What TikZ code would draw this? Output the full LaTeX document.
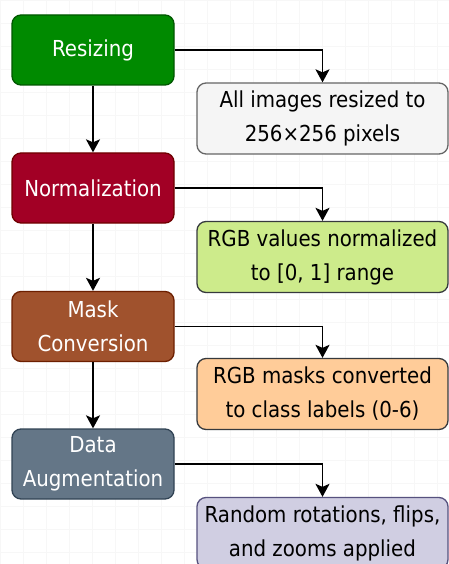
\documentclass[tikz,border=0pt]{standalone}
\usepackage{fontspec}
\setmainfont{DejaVu Sans Condensed}
\usetikzlibrary{arrows.meta}

% stage fills and borders
\definecolor{resizeFill}{HTML}{008A00}\definecolor{resizeLine}{HTML}{005700}
\definecolor{normFill}{HTML}{A20025}\definecolor{normLine}{HTML}{6F0000}
\definecolor{maskFill}{HTML}{A0522D}\definecolor{maskLine}{HTML}{6D1F00}
\definecolor{augFill}{HTML}{647687}\definecolor{augLine}{HTML}{314354}
% detail box fills and borders
\definecolor{greyFill}{HTML}{F5F5F5}\definecolor{greyLine}{HTML}{666666}
\definecolor{limeFill}{HTML}{CDEB8B}\definecolor{limeLine}{HTML}{36393D}
\definecolor{peachFill}{HTML}{FFCC99}\definecolor{peachLine}{HTML}{36393D}
\definecolor{lilacFill}{HTML}{D0CEE2}\definecolor{lilacLine}{HTML}{56517E}

\tikzset{
  stage/.style={draw, line width=1.3pt, rounded corners=9pt,
    minimum width=162pt, minimum height=70pt, inner sep=0pt,
    text=white, align=center, font=\fontsize{22}{34}\selectfont},
  detail/.style={draw, line width=1.3pt, rounded corners=9pt,
    minimum width=251pt, minimum height=71pt, inner sep=0pt,
    text=black, align=center, font=\fontsize{22}{34}\selectfont},
  flow/.style={line width=1.8pt, -{Stealth[length=13pt,width=14pt,inset=3pt]}},
}

\begin{document}
\begin{tikzpicture}[x=1pt, y=-1pt]
\useasboundingbox (0,0) rectangle (449,564);
\fill[white] (0,0) rectangle (449,564);
% faint background grid
\draw[black!3, line width=0.4pt] (0,0) grid[step=23pt] (449,564);

% processing stages
\node[stage, fill=resizeFill, draw=resizeLine] (resize) at (93,50) {Resizing};
\node[stage, fill=normFill, draw=normLine] (norm) at (93,188) {Normalization};
\node[stage, fill=maskFill, draw=maskLine] (mask) at (93,326.5) {Mask\\Conversion};
\node[stage, fill=augFill, draw=augLine] (aug) at (93,464) {Data\\Augmentation};

% stage details
\node[detail, fill=greyFill, draw=greyLine] (d1) at (322.5,118.5) {All images resized to\\256×256 pixels};
\node[detail, fill=limeFill, draw=limeLine] (d2) at (322.5,257) {RGB values normalized\\to [0, 1] range};
\node[detail, fill=peachFill, draw=peachLine] (d3) at (322.5,394) {RGB masks converted\\to class labels (0-6)};
\node[detail, fill=lilacFill, draw=lilacLine] (d4) at (322.5,533) {Random rotations, flips,\\and zooms applied};

% main pipeline
\draw[flow] (resize) -- (norm);
\draw[flow] (norm) -- (mask);
\draw[flow] (mask) -- (aug);

% stage to detail
\draw[flow] (resize.east) -| (d1.north);
\draw[flow] (norm.east) -| (d2.north);
\draw[flow] (mask.east) -| (d3.north);
\draw[flow] (aug.east) -| (d4.north);
\end{tikzpicture}
\end{document}
